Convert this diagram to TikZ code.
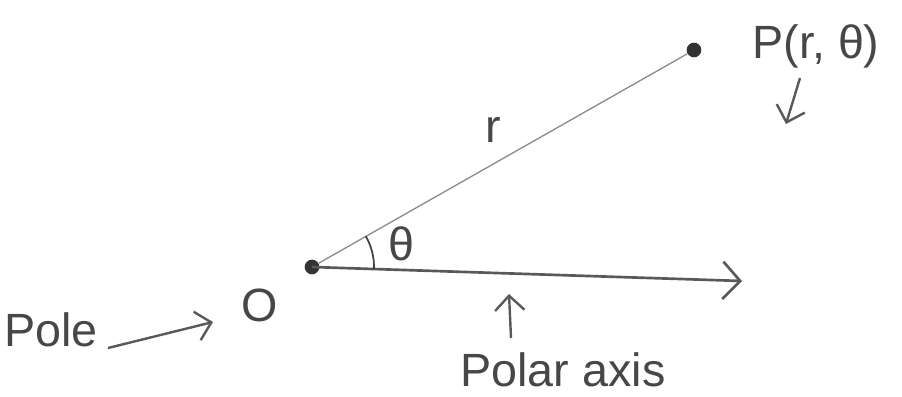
\documentclass[tikz,border=0pt]{standalone}
\usepackage{fontspec}
\setmainfont{Liberation Sans}
\usetikzlibrary{arrows.meta}
\begin{document}
\begin{tikzpicture}[x=0.75pt,y=-0.75pt,
  dot/.style={circle,fill=black!80,inner sep=0pt,minimum size=11pt},
  lbl/.style={inner sep=0pt,text=black!72,font=\fontsize{35}{39}\selectfont},
  ray/.style={draw=black!45,line width=1pt},
  axisline/.style={draw=black!65,line width=2pt},
  hand/.style={draw=black!65,line width=1.8pt,-{Straight Barb[length=11pt,width=22pt,line width=1.8pt]}}]
\useasboundingbox (0,0) rectangle (902,396);
\node[dot] (O) at (312,267) {};
\node[dot] (P) at (694,50) {};
\coordinate (axEnd) at (742,281);
\draw[ray] (O) -- (P);
\draw[axisline,-{Straight Barb[length=13pt,width=28pt,line width=2pt]}] (O.center) -- (axEnd);
\draw[draw=black!75,line width=1.3pt] (O.center) ++(-30:62) arc[start angle=-30,end angle=2,radius=62];
\node[lbl] (theta) at (401,244) {θ};
\node[lbl] (r) at (493,130) {r};
\node[lbl] (Plbl) at (816,46) {P(r, θ)};
\node[lbl] (Olbl) at (260,305) {O};
\node[lbl] (pole) at (51,330) {Pole};
\node[lbl] (paxis) at (563,370) {Polar axis};
\coordinate (pa) at (800,78);
\coordinate (pb) at (786,124);
\draw[hand] (pa) -- (pb);
\coordinate (qa) at (108,348);
\coordinate (qb) at (213,322);
\draw[hand] (qa) -- (qb);
\coordinate (ua) at (511,338);
\coordinate (ub) at (509,294);
\draw[hand] (ua) -- (ub);
\end{tikzpicture}
\end{document}
